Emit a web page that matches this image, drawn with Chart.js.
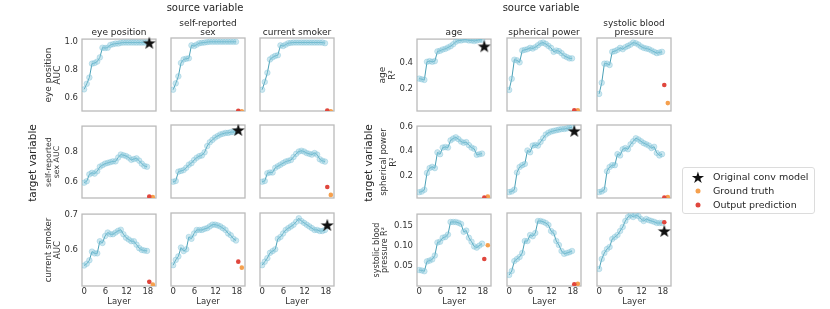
<!DOCTYPE html>
<html>
<head>
<meta charset="utf-8">
<script src="https://cdn.jsdelivr.net/npm/chart.js@4.4.1/dist/chart.umd.min.js"></script>
<style>
  body { margin: 0; width: 830px; height: 309px; background: #fff; position: relative; overflow: hidden;
         font-family: 'DejaVu Sans', sans-serif; color: #262626; }
  canvas { position: absolute; }
  .t { position: absolute; white-space: nowrap; line-height: 1; transform: translate(-50%, -50%); }
  .r { transform: translate(-50%, -50%) rotate(-90deg); }
  #legend { position: absolute; left: 682px; top: 167px; width: 131px; height: 45px;
            border: 1px solid #dcdcdc; border-radius: 3px; font-size: 9.5px; }
  #legend div { position: absolute; left: 30px; line-height: 1; transform: translateY(-50%); white-space: nowrap; }
  #legend span { position: absolute; transform: translate(-50%, -50%); }
</style>
</head>
<body>
<script>
// layer index of each probe (x values)
const layers = [0, 0.74, 1.48, 2.22, 2.96, 3.7, 4.44, 5.18, 5.92, 6.66, 7.4, 8.14, 8.88,
                9.62, 10.36, 11.1, 11.84, 12.58, 13.32, 14.06, 14.8, 15.54, 16.28, 17.02, 17.76];
const layerTicks = [0, 6, 12, 18];
const predLayer = 18.4;   // output prediction / original model
const truthLayer = 19.4;  // ground truth

// left grid: target AUC by source variable
const aucEyeByEye = [0.66,0.70,0.745,0.845,0.85,0.86,0.89,0.96,0.958,0.96,0.98,0.985,0.99,0.99,0.995,0.997,0.997,0.997,0.997,0.997,0.997,0.997,0.997,0.997,0.997];
const aucEyeBySex = [0.655,0.70,0.75,0.845,0.87,0.875,0.878,0.97,0.965,0.975,0.985,0.988,0.99,0.993,0.995,0.995,0.995,0.995,0.995,0.995,0.995,0.995,0.995,0.995,0.995];
const aucEyeBySmoker = [0.655,0.71,0.775,0.87,0.885,0.895,0.90,0.97,0.965,0.975,0.985,0.988,0.99,0.99,0.99,0.99,0.99,0.99,0.99,0.99,0.99,0.99,0.99,0.99,0.985];
const aucSexByEye = [0.595,0.605,0.65,0.66,0.655,0.67,0.70,0.71,0.72,0.725,0.73,0.735,0.735,0.76,0.78,0.775,0.77,0.76,0.745,0.75,0.755,0.74,0.72,0.705,0.70];
const aucSexBySex = [0.60,0.605,0.665,0.67,0.675,0.69,0.71,0.72,0.74,0.755,0.765,0.77,0.79,0.83,0.855,0.87,0.885,0.895,0.905,0.91,0.915,0.915,0.92,0.92,0.925];
const aucSexBySmoker = [0.60,0.605,0.655,0.66,0.66,0.69,0.70,0.71,0.72,0.73,0.735,0.74,0.76,0.78,0.795,0.80,0.795,0.785,0.78,0.775,0.785,0.775,0.745,0.735,0.73];
const aucSmokerByEye = [0.555,0.56,0.57,0.595,0.59,0.59,0.625,0.62,0.64,0.65,0.645,0.645,0.65,0.655,0.658,0.645,0.635,0.63,0.625,0.625,0.615,0.605,0.60,0.598,0.597];
const aucSmokerBySex = [0.555,0.57,0.58,0.605,0.595,0.60,0.635,0.63,0.645,0.655,0.655,0.655,0.658,0.66,0.665,0.67,0.67,0.668,0.665,0.66,0.655,0.645,0.64,0.63,0.625];
const aucSmokerBySmoker = [0.555,0.565,0.575,0.59,0.595,0.60,0.63,0.635,0.645,0.655,0.66,0.665,0.67,0.678,0.688,0.68,0.675,0.67,0.665,0.66,0.655,0.655,0.652,0.652,0.655];

// right grid: target R^2 by source variable
const r2AgeByAge = [0.28,0.275,0.27,0.41,0.415,0.41,0.415,0.49,0.495,0.505,0.51,0.52,0.53,0.545,0.565,0.575,0.575,0.58,0.58,0.575,0.575,0.57,0.575,0.58,0.58];
const r2AgeBySph = [0.19,0.275,0.42,0.415,0.40,0.49,0.495,0.50,0.51,0.505,0.515,0.53,0.545,0.55,0.54,0.525,0.51,0.48,0.49,0.485,0.47,0.45,0.44,0.43,0.43];
const r2AgeBySbp = [0.16,0.245,0.39,0.39,0.38,0.48,0.485,0.495,0.51,0.50,0.515,0.525,0.535,0.55,0.545,0.535,0.52,0.51,0.505,0.50,0.49,0.48,0.47,0.475,0.48];
const r2SphByAge = [0.06,0.065,0.08,0.22,0.26,0.27,0.26,0.39,0.375,0.43,0.435,0.43,0.49,0.505,0.515,0.50,0.48,0.47,0.475,0.45,0.43,0.42,0.37,0.375,0.38];
const r2SphBySph = [0.06,0.065,0.08,0.22,0.265,0.28,0.29,0.40,0.385,0.44,0.445,0.44,0.47,0.50,0.53,0.545,0.555,0.56,0.565,0.57,0.575,0.575,0.58,0.585,0.59];
const r2SphBySbp = [0.06,0.065,0.08,0.23,0.265,0.28,0.28,0.37,0.36,0.41,0.42,0.41,0.45,0.475,0.50,0.49,0.475,0.46,0.45,0.44,0.42,0.43,0.38,0.36,0.37];
const r2SbpByAge = [0.038,0.037,0.035,0.06,0.062,0.065,0.075,0.108,0.11,0.12,0.122,0.128,0.16,0.16,0.16,0.158,0.155,0.135,0.138,0.12,0.11,0.098,0.095,0.10,0.105];
const r2SbpBySph = [0.025,0.035,0.06,0.065,0.07,0.08,0.11,0.11,0.125,0.122,0.13,0.16,0.16,0.158,0.155,0.15,0.135,0.13,0.11,0.10,0.085,0.078,0.08,0.082,0.085];
const r2SbpBySbp = [0.04,0.065,0.08,0.09,0.095,0.115,0.12,0.125,0.135,0.145,0.16,0.17,0.175,0.17,0.175,0.172,0.165,0.16,0.165,0.162,0.16,0.158,0.155,0.155,0.155];

// single markers, row-major per grid (null = not shown)
const leftModel = [0.995, null, null, null, 0.934, null, null, null, 0.669];
const leftPred = [null, 0.505, 0.507, 0.505, null, 0.566, 0.508, 0.565, null];
const leftTruth = [null, 0.502, 0.502, 0.502, null, 0.515, 0.500, 0.548, null];
const rightModel = [0.53, null, null, null, 0.56, null, null, null, 0.135];
const rightPred = [null, 0.035, 0.228, 0.015, null, 0.015, 0.066, 0.002, 0.157];
const rightTruth = [null, 0.035, 0.09, 0.025, null, 0.02, 0.101, 0.003, null];

// y axes per target row
const eyeAucTicks = [0.6, 0.8, 1.0], sexAucTicks = [0.6, 0.8], smokerAucTicks = [0.6, 0.7];
const ageR2Ticks = [0.2, 0.4], sphR2Ticks = [0.2, 0.4, 0.6], sbpR2Ticks = [0.05, 0.10, 0.15];

const W = 74, H = 73, PL = 52, PT = 8, PR = 6, PB = 24;
const TEXT = '#333';
const LINE = '#4aa0b6';
const RED = '#e0463d';
const ORANGE = '#f5a04e';

function makeStar() {
  const c = document.createElement('canvas');
  c.width = c.height = 14;
  const g = c.getContext('2d');
  g.beginPath();
  for (let k = 0; k < 10; k++) {
    const r = k % 2 ? 2.7 : 6.8;
    const a = -Math.PI / 2 + k * Math.PI / 5;
    g.lineTo(7 + r * Math.cos(a), 7.6 + r * Math.sin(a));
  }
  g.closePath();
  g.fillStyle = '#111';
  g.fill();
  return c;
}
const starImg = makeStar();

const framePlugin = {
  id: 'frame',
  beforeDatasetsDraw(chart) {
    const { ctx, chartArea: a } = chart;
    ctx.save();
    ctx.strokeStyle = '#bbbbbb';
    ctx.lineWidth = 1.3;
    ctx.strokeRect(a.left, a.top, a.right - a.left, a.bottom - a.top);
    ctx.restore();
  }
};

function pts(v, x) { return v == null ? [] : [{ x: x, y: v }]; }

function panel(left, top, series, model, pred, truth, y, showX) {
  const c = document.createElement('canvas');
  c.width = W + PL + PR;
  c.height = H + PT + PB;
  c.style.left = (left - PL) + 'px';
  c.style.top = (top - PT) + 'px';
  document.body.appendChild(c);

  new Chart(c, {
    type: 'scatter',
    data: {
      datasets: [
        { data: pts(model, predLayer), pointStyle: starImg, clip: false },
        { data: pts(pred, predLayer), pointRadius: 2.3, pointBackgroundColor: RED, pointBorderWidth: 0 },
        { data: pts(truth, truthLayer), pointRadius: 2.3, pointBackgroundColor: ORANGE, pointBorderWidth: 0 },
        {
          data: series.map((v, i) => ({ x: layers[i], y: v })),
          showLine: true, borderColor: LINE, borderWidth: 1,
          pointRadius: 2.8, pointBackgroundColor: 'rgba(135,200,220,0.42)',
          pointBorderColor: 'rgba(110,185,210,0.45)', pointBorderWidth: 0.7
        }
      ]
    },
    options: {
      responsive: false,
      animation: false,
      events: [],
      layout: { padding: { top: PT, right: PR, left: 0, bottom: 0 } },
      plugins: { legend: { display: false }, tooltip: { enabled: false } },
      scales: {
        x: {
          type: 'linear', min: -0.6, max: 20.3,
          grid: { display: false, drawTicks: false }, border: { display: false },
          afterBuildTicks: s => { s.ticks = layerTicks.map(v => ({ value: v })); },
          afterFit: s => { s.height = PB; },
          ticks: { display: showX, padding: 1, color: TEXT, font: { family: 'DejaVu Sans', size: 8.5 } },
          title: { display: showX, text: 'Layer', color: TEXT, padding: { top: 0, bottom: 3 },
                   font: { family: 'DejaVu Sans', size: 8.5, lineHeight: 1.2 } }
        },
        y: {
          type: 'linear', min: y.min, max: y.max,
          grid: { display: false, drawTicks: false }, border: { display: false },
          afterBuildTicks: s => { s.ticks = y.ticks.map(v => ({ value: v })); },
          afterFit: s => { s.width = PL; },
          ticks: { display: !!y.title, padding: 4, color: TEXT, font: { family: 'DejaVu Sans', size: 8.5 },
                   callback: v => v.toFixed(y.dec) },
          title: { display: !!y.title, text: y.title || '', color: TEXT, padding: { top: y.pad, bottom: 0 },
                   font: { family: 'DejaVu Sans', size: y.fs, lineHeight: y.lh } }
        }
      }
    },
    plugins: [framePlugin]
  });
}

const leftCols = [82, 171, 260], rightCols = [417, 507, 597], rows = [38, 125, 213];

const leftRows = [
  { series: [aucEyeByEye, aucEyeBySex, aucEyeBySmoker],
    y: { min: 0.504, max: 1.022, ticks: eyeAucTicks, dec: 1, title: ['eye position', 'AUC'], fs: 9, lh: 0.95, pad: 14.7 } },
  { series: [aucSexByEye, aucSexBySex, aucSexBySmoker],
    y: { min: 0.495, max: 0.966, ticks: sexAucTicks, dec: 1, title: ['self-reported', 'sex AUC'], fs: 7.8, lh: 1.0, pad: 15 } },
  { series: [aucSmokerByEye, aucSmokerBySex, aucSmokerBySmoker],
    y: { min: 0.496, max: 0.703, ticks: smokerAucTicks, dec: 1, title: ['current smoker', 'AUC'], fs: 8.5, lh: 1.0, pad: 14.8 } }
];
const rightRows = [
  { series: [r2AgeByAge, r2AgeBySph, r2AgeBySbp],
    y: { min: 0.03, max: 0.585, ticks: ageR2Ticks, dec: 1, title: ['age', 'R²'], fs: 9, lh: 1.1, pad: 13 } },
  { series: [r2SphByAge, r2SphBySph, r2SphBySbp],
    y: { min: 0.012, max: 0.608, ticks: sphR2Ticks, dec: 1, title: ['spherical power', 'R²'], fs: 8.5, lh: 1.1, pad: 14.4 } },
  { series: [r2SbpByAge, r2SbpBySph, r2SbpBySbp],
    y: { min: -0.0025, max: 0.18, ticks: sbpR2Ticks, dec: 2, title: ['systolic blood', 'pressure R²'], fs: 8, lh: 1.05, pad: 7.6 } }
];

function grid(cols, rowDefs, model, pred, truth) {
  rowDefs.forEach((rd, r) => {
    rd.series.forEach((s, ci) => {
      const k = r * 3 + ci;
      const yCfg = Object.assign({}, rd.y, { title: ci === 0 ? rd.y.title : null });
      panel(cols[ci], rows[r], s, model[k], pred[k], truth[k], yCfg, r === 2);
    });
  });
}
grid(leftCols, leftRows, leftModel, leftPred, leftTruth);
grid(rightCols, rightRows, rightModel, rightPred, rightTruth);

function text(str, x, y, size, rot) {
  const d = document.createElement('div');
  d.className = rot ? 't r' : 't';
  d.textContent = str;
  d.style.left = x + 'px';
  d.style.top = y + 'px';
  d.style.fontSize = size + 'px';
  document.body.appendChild(d);
}
text('source variable', 205, 8, 10);
text('source variable', 541, 8, 10);
text('target variable', 32, 163, 10.5, true);
text('target variable', 368, 163, 10.5, true);
text('eye position', 119, 32, 9);
text('self-reported', 208, 23, 9);
text('sex', 208, 32, 9);
text('current smoker', 297, 32, 9);
text('age', 454, 32, 9);
text('spherical power', 544, 32, 9);
text('systolic blood', 634, 23, 9);
text('pressure', 634, 32, 9);
</script>
<div id="legend">
  <span style="left:15px;top:9px;font-size:16px;color:#111;">★</span>
  <span style="left:15px;top:23px;width:5px;height:5px;border-radius:50%;background:#f5a04e;"></span>
  <span style="left:15px;top:37px;width:5px;height:5px;border-radius:50%;background:#e0463d;"></span>
  <div style="top:9px;">Original conv model</div>
  <div style="top:23px;">Ground truth</div>
  <div style="top:37px;">Output prediction</div>
</div>
</body>
</html>
